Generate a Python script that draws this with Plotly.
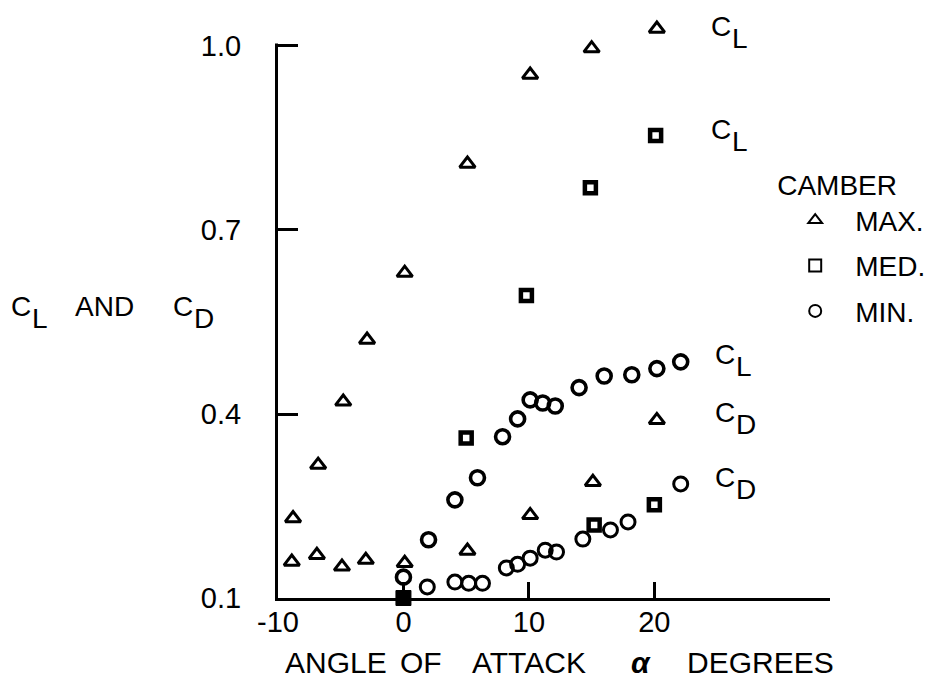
import plotly.graph_objects as go

# ---------------- data ----------------
alpha_max = [-8.8, -6.8, -4.8, -2.9, 0.1, 5.1, 10.1, 15.0, 20.2]
cl_max = [0.230, 0.317, 0.420, 0.521, 0.630, 0.808, 0.953, 0.996, 1.028]
alpha_max_cd = [-8.9, -6.9, -4.9, -3.0, 0.1, 5.1, 10.1, 15.1, 20.2]
cd_max = [0.159, 0.170, 0.151, 0.162, 0.157, 0.177, 0.235, 0.289, 0.390]

alpha_med = [5.0, 9.8, 14.9, 20.1]
cl_med = [0.361, 0.593, 0.769, 0.854]
alpha_med_cd = [15.2, 20.0]
cd_med = [0.219, 0.252]
alpha_med_zero = [0.0]
c_med_zero = [0.100]

alpha_min = [0.0, 2.0, 4.1, 5.9, 7.9, 9.1, 10.1, 11.1, 12.1, 14.0, 16.0, 18.2, 20.2, 22.1]
cl_min = [0.134, 0.195, 0.260, 0.296, 0.363, 0.392, 0.423, 0.418, 0.413, 0.443, 0.462, 0.464, 0.474, 0.485]
alpha_min_cd = [1.9, 4.1, 5.2, 6.3, 8.2, 9.1, 10.1, 11.3, 12.2, 14.3, 16.5, 17.9, 22.1]
cd_min = [0.118, 0.126, 0.124, 0.124, 0.149, 0.155, 0.165, 0.178, 0.175, 0.196, 0.211, 0.224, 0.286]

x_ticks = [-10, 0, 10, 20]
x_tick_labels = ["-10", "0", "10", "20"]
y_ticks = [0.1, 0.4, 0.7, 1.0]
y_tick_labels = ["0.1", "0.4", "0.7", "1.0"]

# ---------------- layout geometry ----------------
# page body has an 8 px margin, so the figure is 8 px smaller than the window
OFF = 8
W, H = 941 - OFF, 678 - OFF
Y_MIN, Y_AXIS_TOP, Y_MAX = 0.1, 1.0, 1.044
L, R, B = 278, 832, 598               # plot area in window pixels
PX_PER_Y = (598 - 46) / (Y_AXIS_TOP - Y_MIN)
T = B - (Y_MAX - Y_MIN) * PX_PER_Y    # top of plot area (room for the point above 1.0)
FONT = "Liberation Sans, Arial, Helvetica, sans-serif"


def px_x(p):
    return (p - L) / (R - L)


def px_y(p):
    return (B - p) / (B - T)


fig = go.Figure()

tri = dict(symbol="triangle-up-open", size=13.5, color="black", line=dict(width=3.0, color="black"))
sq = dict(symbol="square-open", size=11, color="black", line=dict(width=4.5, color="black"))
circ = dict(symbol="circle-open", size=14, color="black", line=dict(width=3.6, color="black"))
circ_cd = dict(symbol="circle-open", size=14, color="black", line=dict(width=3.0, color="black"))

fig.add_trace(go.Scatter(x=alpha_max, y=cl_max, mode="markers", marker=tri, name="MAX.",
                         legendgroup="max", showlegend=True, cliponaxis=False))
fig.add_trace(go.Scatter(x=alpha_max_cd, y=cd_max, mode="markers", marker=tri, name="MAX. C_D",
                         legendgroup="max", showlegend=False, cliponaxis=False))
fig.add_trace(go.Scatter(x=alpha_med, y=cl_med, mode="markers", marker=sq, name="MED.",
                         legendgroup="med", showlegend=True, cliponaxis=False))
fig.add_trace(go.Scatter(x=alpha_med_cd, y=cd_med, mode="markers", marker=sq, name="MED. C_D",
                         legendgroup="med", showlegend=False, cliponaxis=False))
fig.add_trace(go.Scatter(x=alpha_med_zero, y=c_med_zero, mode="markers",
                         marker=dict(symbol="square", size=15, color="black", line=dict(width=1, color="black")),
                         name="MED. 0", legendgroup="med", showlegend=False, cliponaxis=False))
fig.add_trace(go.Scatter(x=alpha_min, y=cl_min, mode="markers", marker=circ, name="MIN.",
                         legendgroup="min", showlegend=True, cliponaxis=False))
fig.add_trace(go.Scatter(x=alpha_min_cd, y=cd_min, mode="markers", marker=circ_cd, name="MIN. C_D",
                         legendgroup="min", showlegend=False, cliponaxis=False))

ann = []


def text_at(txt, xp, yp, size=28, xanchor="left"):
    ann.append(dict(text=txt, x=px_x(xp), y=px_y(yp), xref="paper", yref="paper",
                    xanchor=xanchor, yanchor="middle", showarrow=False,
                    font=dict(family=FONT, size=size, color="black")))


def coef_label(sub, xl, yc):
    # "C" with a large, dropped subscript letter
    text_at("C", xl, yc)
    text_at(sub, xl + 21, yc + 11.5)


# curve labels on the right
coef_label("L", 711, 27)
coef_label("L", 711, 130)
coef_label("L", 715, 355)
coef_label("D", 715, 413)
coef_label("D", 715, 478)

# y axis title (horizontal)
coef_label("L", 8, 307)
text_at("AND", 72, 307)
coef_label("D", 171, 307)

# x axis title, word by word as spaced in the reference
text_at("ANGLE", 336, 662, size=30, xanchor="center")
text_at("OF", 422, 662, size=30, xanchor="center")
text_at("ATTACK", 530, 662, size=30, xanchor="center")
text_at("<b><i>\u03b1</i></b>", 642, 662, size=30, xanchor="center")
text_at("DEGREES", 762, 662, size=30, xanchor="center")

fig.update_layout(
    width=W, height=H,
    margin=dict(l=L - OFF, r=W - (R - OFF), t=T - OFF, b=H - (B - OFF), pad=0),
    paper_bgcolor="white", plot_bgcolor="white",
    font=dict(family=FONT, size=29, color="black"),
    showlegend=True,
    legend=dict(x=px_x(777), y=px_y(159), xanchor="left", yanchor="top",
                title=dict(text="CAMBER", font=dict(family=FONT, size=28, color="black")),
                font=dict(family=FONT, size=28, color="black"),
                bgcolor="rgba(0,0,0,0)", borderwidth=0, itemsizing="constant",
                itemwidth=70, tracegroupgap=6, traceorder="grouped"),
    annotations=ann,
    # the vertical axis ends at the 1.0 tick in the reference: blank out the part above it
    shapes=[dict(type="rect", xref="paper", yref="y",
                 x0=px_x(L - 12), x1=px_x(L + 5),
                 y0=Y_AXIS_TOP + 2.5 / PX_PER_Y, y1=Y_MAX + 0.01,
                 fillcolor="white", line=dict(width=0), layer="above")],
)

fig.update_xaxes(range=[-10, 34], showgrid=False, zeroline=False,
                 showline=True, linecolor="black", linewidth=3,
                 ticks="inside", ticklen=16, tickwidth=2.5, tickcolor="black",
                 tickmode="array", tickvals=x_ticks, ticktext=x_tick_labels,
                 ticklabelstandoff=-4,
                 tickfont=dict(family=FONT, size=29, color="black"))
fig.update_yaxes(range=[Y_MIN, Y_MAX], showgrid=False, zeroline=False,
                 showline=True, linecolor="black", linewidth=3,
                 ticks="inside", ticklen=20, tickwidth=3, tickcolor="black",
                 tickmode="array", tickvals=y_ticks, ticktext=y_tick_labels,
                 ticklabelstandoff=28,
                 tickfont=dict(family=FONT, size=29, color="black"))

fig.write_html("out.html")
